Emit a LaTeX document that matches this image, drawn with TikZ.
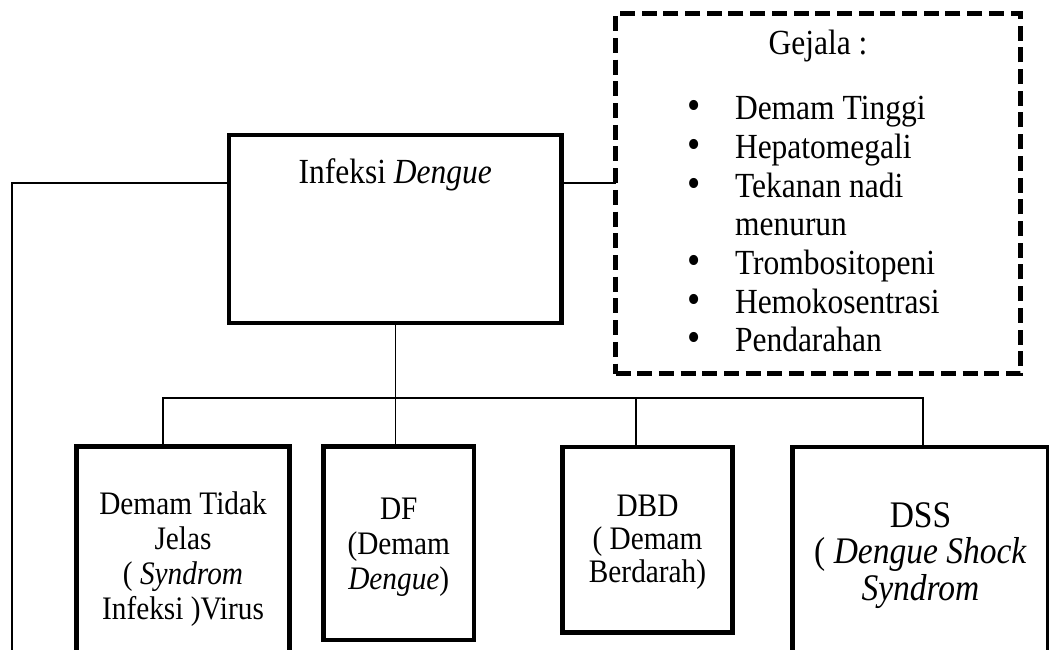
\documentclass[tikz,border=0pt]{standalone}
\usepackage{fontspec}
\setmainfont{Liberation Serif}
\usetikzlibrary{calc}
\newcommand{\stacklines}[1]{\scalebox{1}[1.12]{\begin{tabular}[t]{@{}c@{}}#1\end{tabular}}}
\newcommand{\vst}[1]{\scalebox{1}[1.12]{#1}}
\newcommand{\bul}{\scalebox{1.2}{\textbullet}}
\begin{document}
\begin{tikzpicture}[x=1pt,y=-1pt,
  boldbox/.style={draw,line width=4.5pt,inner sep=0pt,outer sep=0pt},
  dashbox/.style={draw,line width=5pt,dash pattern=on 15pt off 6.7pt,inner sep=0pt,outer sep=0pt},
  conn/.style={line width=1.5pt},
  txt/.style={inner sep=0pt,outer sep=0pt,anchor=base},
  bigfont/.style={font=\fontsize{31.5}{34.5}\selectfont},
  smallfont/.style={font=\fontsize{29.3}{31.3}\selectfont}]
\useasboundingbox (0,0) rectangle (1049,650);
\fill[white] (0,0) rectangle (1049,650);
\clip (0,0) rectangle (1049,650);

% top box
\node[boldbox,minimum width=332.5pt,minimum height=188pt] (topbox) at (395.25,229) {};
\node[txt,bigfont] (ttext) at (395.25,183) {\vst{Infeksi \textit{Dengue}}};

% symptoms box
\node[dashbox,minimum width=405pt,minimum height=359.5pt] (gejala) at (818,193.75) {};
\node[txt,bigfont] (gtitle) at (818,55) {\vst{Gejala :}};
\node[inner sep=0pt,outer sep=0pt,anchor=base west,bigfont] (glist) at (687,120)
  {\vst{\begin{tabular}[t]{@{}p{48pt}@{}l@{}}
   \bul & Demam Tinggi\\
   \bul & Hepatomegali\\
   \bul & Tekanan nadi\\
        & menurun\\
   \bul & Trombositopeni\\
   \bul & Hemokosentrasi\\
   \bul & Pendarahan
   \end{tabular}}};

% bottom boxes
\node[boldbox,minimum width=213pt,minimum height=260pt,anchor=north] (b1) at (183,446.5) {};
\node[boldbox,minimum width=150.5pt,minimum height=193.5pt,anchor=north] (df) at (398.75,446.5) {};
\node[boldbox,minimum width=170pt,minimum height=185.5pt,anchor=north] (dbd) at (647.5,447) {};
\node[boldbox,minimum width=256pt,minimum height=260pt,anchor=north] (dss) at (920.5,447) {};

\node[txt,smallfont] (t1) at (183,514) {\stacklines{Demam Tidak\\Jelas\\( \textit{Syndrom}\\Infeksi )Virus}};
\node[txt,smallfont] (tdf) at (398.75,519.5) {\stacklines{DF\\(Demam\\\textit{Dengue})}};
\node[txt,font=\fontsize{29.3}{29.5}\selectfont] (tdbd) at (647.5,516) {\stacklines{DBD\\( Demam\\Berdarah)}};
\node[txt,font=\fontsize{33.5}{32}\selectfont] (tdss) at (920.5,527) {\stacklines{DSS\\( \textit{Dengue Shock}\\\textit{Syndrom}}};

% connectors
\coordinate (bus) at (395.25,398);
\coordinate (lbot) at (12,660);
\draw[conn] (topbox.west |- ttext.base) -| (lbot);
\draw[conn] (topbox.east |- ttext.base) -- (gejala.west |- ttext.base);
\draw[conn] (topbox.south) -- (topbox.south |- df.north);
\draw[conn] ([xshift=-20pt]b1.north) |- ([xshift=2.5pt]dss.north |- bus) -- ([xshift=2.5pt]dss.north);
\draw[conn] ([xshift=-11.5pt]dbd.north) -- ([xshift=-11.5pt]dbd.north |- bus);
\end{tikzpicture}
\end{document}
